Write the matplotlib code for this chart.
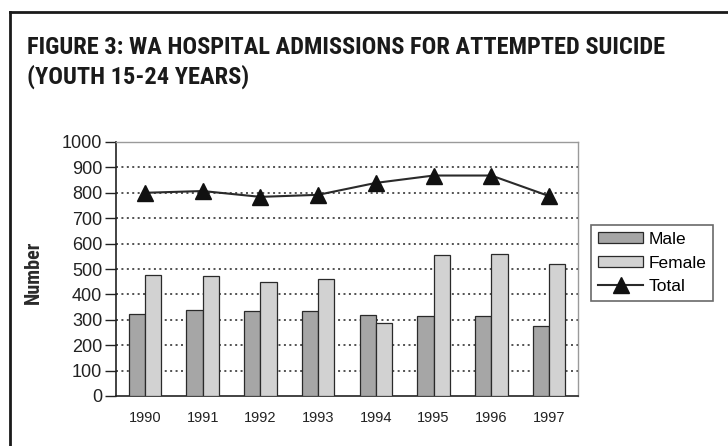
import matplotlib
matplotlib.use("Agg")
import matplotlib.pyplot as plt
from matplotlib.lines import Line2D
from matplotlib import font_manager as fm
import numpy as np

years = ["1990", "1991", "1992", "1993", "1994", "1995", "1996", "1997"]
male = [324, 338, 334, 334, 319, 313, 313, 274]
female = [477, 471, 450, 462, 289, 555, 561, 521]
total = [800, 807, 784, 792, 839, 868, 868, 787]
yticks = [0, 100, 200, 300, 400, 500, 600, 700, 800, 900, 1000]
series_labels = ["Male", "Female", "Total"]

title1 = "FIGURE 3: WA HOSPITAL ADMISSIONS FOR ATTEMPTED SUICIDE"
title2 = "(YOUTH 15-24 YEARS)"

available = set(f.name for f in fm.fontManager.ttflist)


def pick(cands, default="DejaVu Sans"):
    for c in cands:
        if c in available:
            return c
    return default


cond = pick(["Roboto Condensed", "Archivo Narrow", "PT Sans Narrow", "Liberation Sans Narrow",
             "Barlow Condensed", "Encode Sans Condensed", "Open Sans Condensed",
             "Fira Sans Condensed", "IBM Plex Sans Condensed", "Pragati Narrow"])
arial = pick(["Liberation Sans", "Arimo"])

W, H = 728, 446
fig = plt.figure(figsize=(W / 100, H / 100), dpi=100)
fig.patch.set_facecolor("white")

# outer frame (left and top edges visible)
fig.add_artist(Line2D([10 / W, 10 / W], [0, 1 - 12 / H], color="#1a1a1a", lw=2.0,
                      transform=fig.transFigure, solid_capstyle="projecting"))
fig.add_artist(Line2D([10 / W, 1], [1 - 12 / H, 1 - 12 / H], color="#1a1a1a", lw=2.0,
                      transform=fig.transFigure, solid_capstyle="projecting"))

t1 = fig.text(27 / W, 1 - 54 / H, title1, fontsize=17, fontweight="bold",
              family=[cond, "DejaVu Sans"], color="#1a1a1a", ha="left", va="baseline")
t2 = fig.text(27 / W, 1 - 84 / H, title2, fontsize=17, fontweight="bold",
              family=[cond, "DejaVu Sans"], color="#1a1a1a", ha="left", va="baseline")
# fit the title width to the reference (~640 px)
renderer = fig.canvas.get_renderer()
wpx = t1.get_window_extent(renderer).width
fs = min(17 * 640 / wpx, 21)
t1.set_fontsize(fs)
t2.set_fontsize(fs)

ax = fig.add_axes([116 / W, 50 / H, (578 - 116) / W, (396 - 142) / H])
x = np.arange(len(years))
bw = 0.28
b1 = ax.bar(x - bw / 2, male, width=bw, color="#a6a6a6", edgecolor="#2a2a2a", linewidth=0.9,
            label=series_labels[0], zorder=3)
b2 = ax.bar(x + bw / 2, female, width=bw, color="#d2d2d2", edgecolor="#2a2a2a", linewidth=0.9,
            label=series_labels[1], zorder=3)
l1, = ax.plot(x, total, color="#2a2a2a", lw=1.5, marker="^", markersize=11,
              markerfacecolor="#111111", markeredgecolor="#111111", label=series_labels[2],
              zorder=4)

ax.set_xlim(-0.5, len(years) - 0.5)
ax.set_ylim(0, 1000)
ax.set_yticks(yticks)
ax.set_yticklabels([str(v) for v in yticks], fontsize=13, family=arial, color="#222222")
ax.set_xticks(x)
ax.set_xticklabels(years, fontsize=10.5, family=arial, color="#222222")
ax.tick_params(axis="x", length=0, pad=11)
ax.tick_params(axis="y", length=8, width=1.0, direction="out", color="#222222", pad=2)

for v in yticks[1:-1]:
    ax.axhline(v, color="#444444", lw=1.3, linestyle=(0, (1.1, 1.9)), zorder=1)

ax.spines["left"].set_color("#222222")
ax.spines["left"].set_linewidth(1.2)
ax.spines["bottom"].set_color("#222222")
ax.spines["bottom"].set_linewidth(1.2)
ax.spines["top"].set_color("#9a9a9a")
ax.spines["right"].set_color("#9a9a9a")
ax.spines["top"].set_linewidth(1.0)
ax.spines["right"].set_linewidth(1.0)

fig.text(33 / W, 1 - 272 / H, "Number", rotation=90, fontsize=14.5, fontweight="bold",
         family=[cond, "DejaVu Sans"], color="#2a2a2a", ha="center", va="center")

leg = ax.legend([b1, b2, l1], series_labels, loc="upper left",
                bbox_to_anchor=(591 / W, 1 - 225 / H),
                bbox_transform=fig.transFigure, frameon=True, fancybox=False,
                prop={"family": arial, "size": 12.5},
                handlelength=2.6, handleheight=0.6, handletextpad=0.3,
                labelspacing=0.5, borderpad=0.4, borderaxespad=0)
leg.get_frame().set_edgecolor("#444444")
leg.get_frame().set_linewidth(1.2)

fig.savefig("out.png", dpi=100, facecolor="white")
